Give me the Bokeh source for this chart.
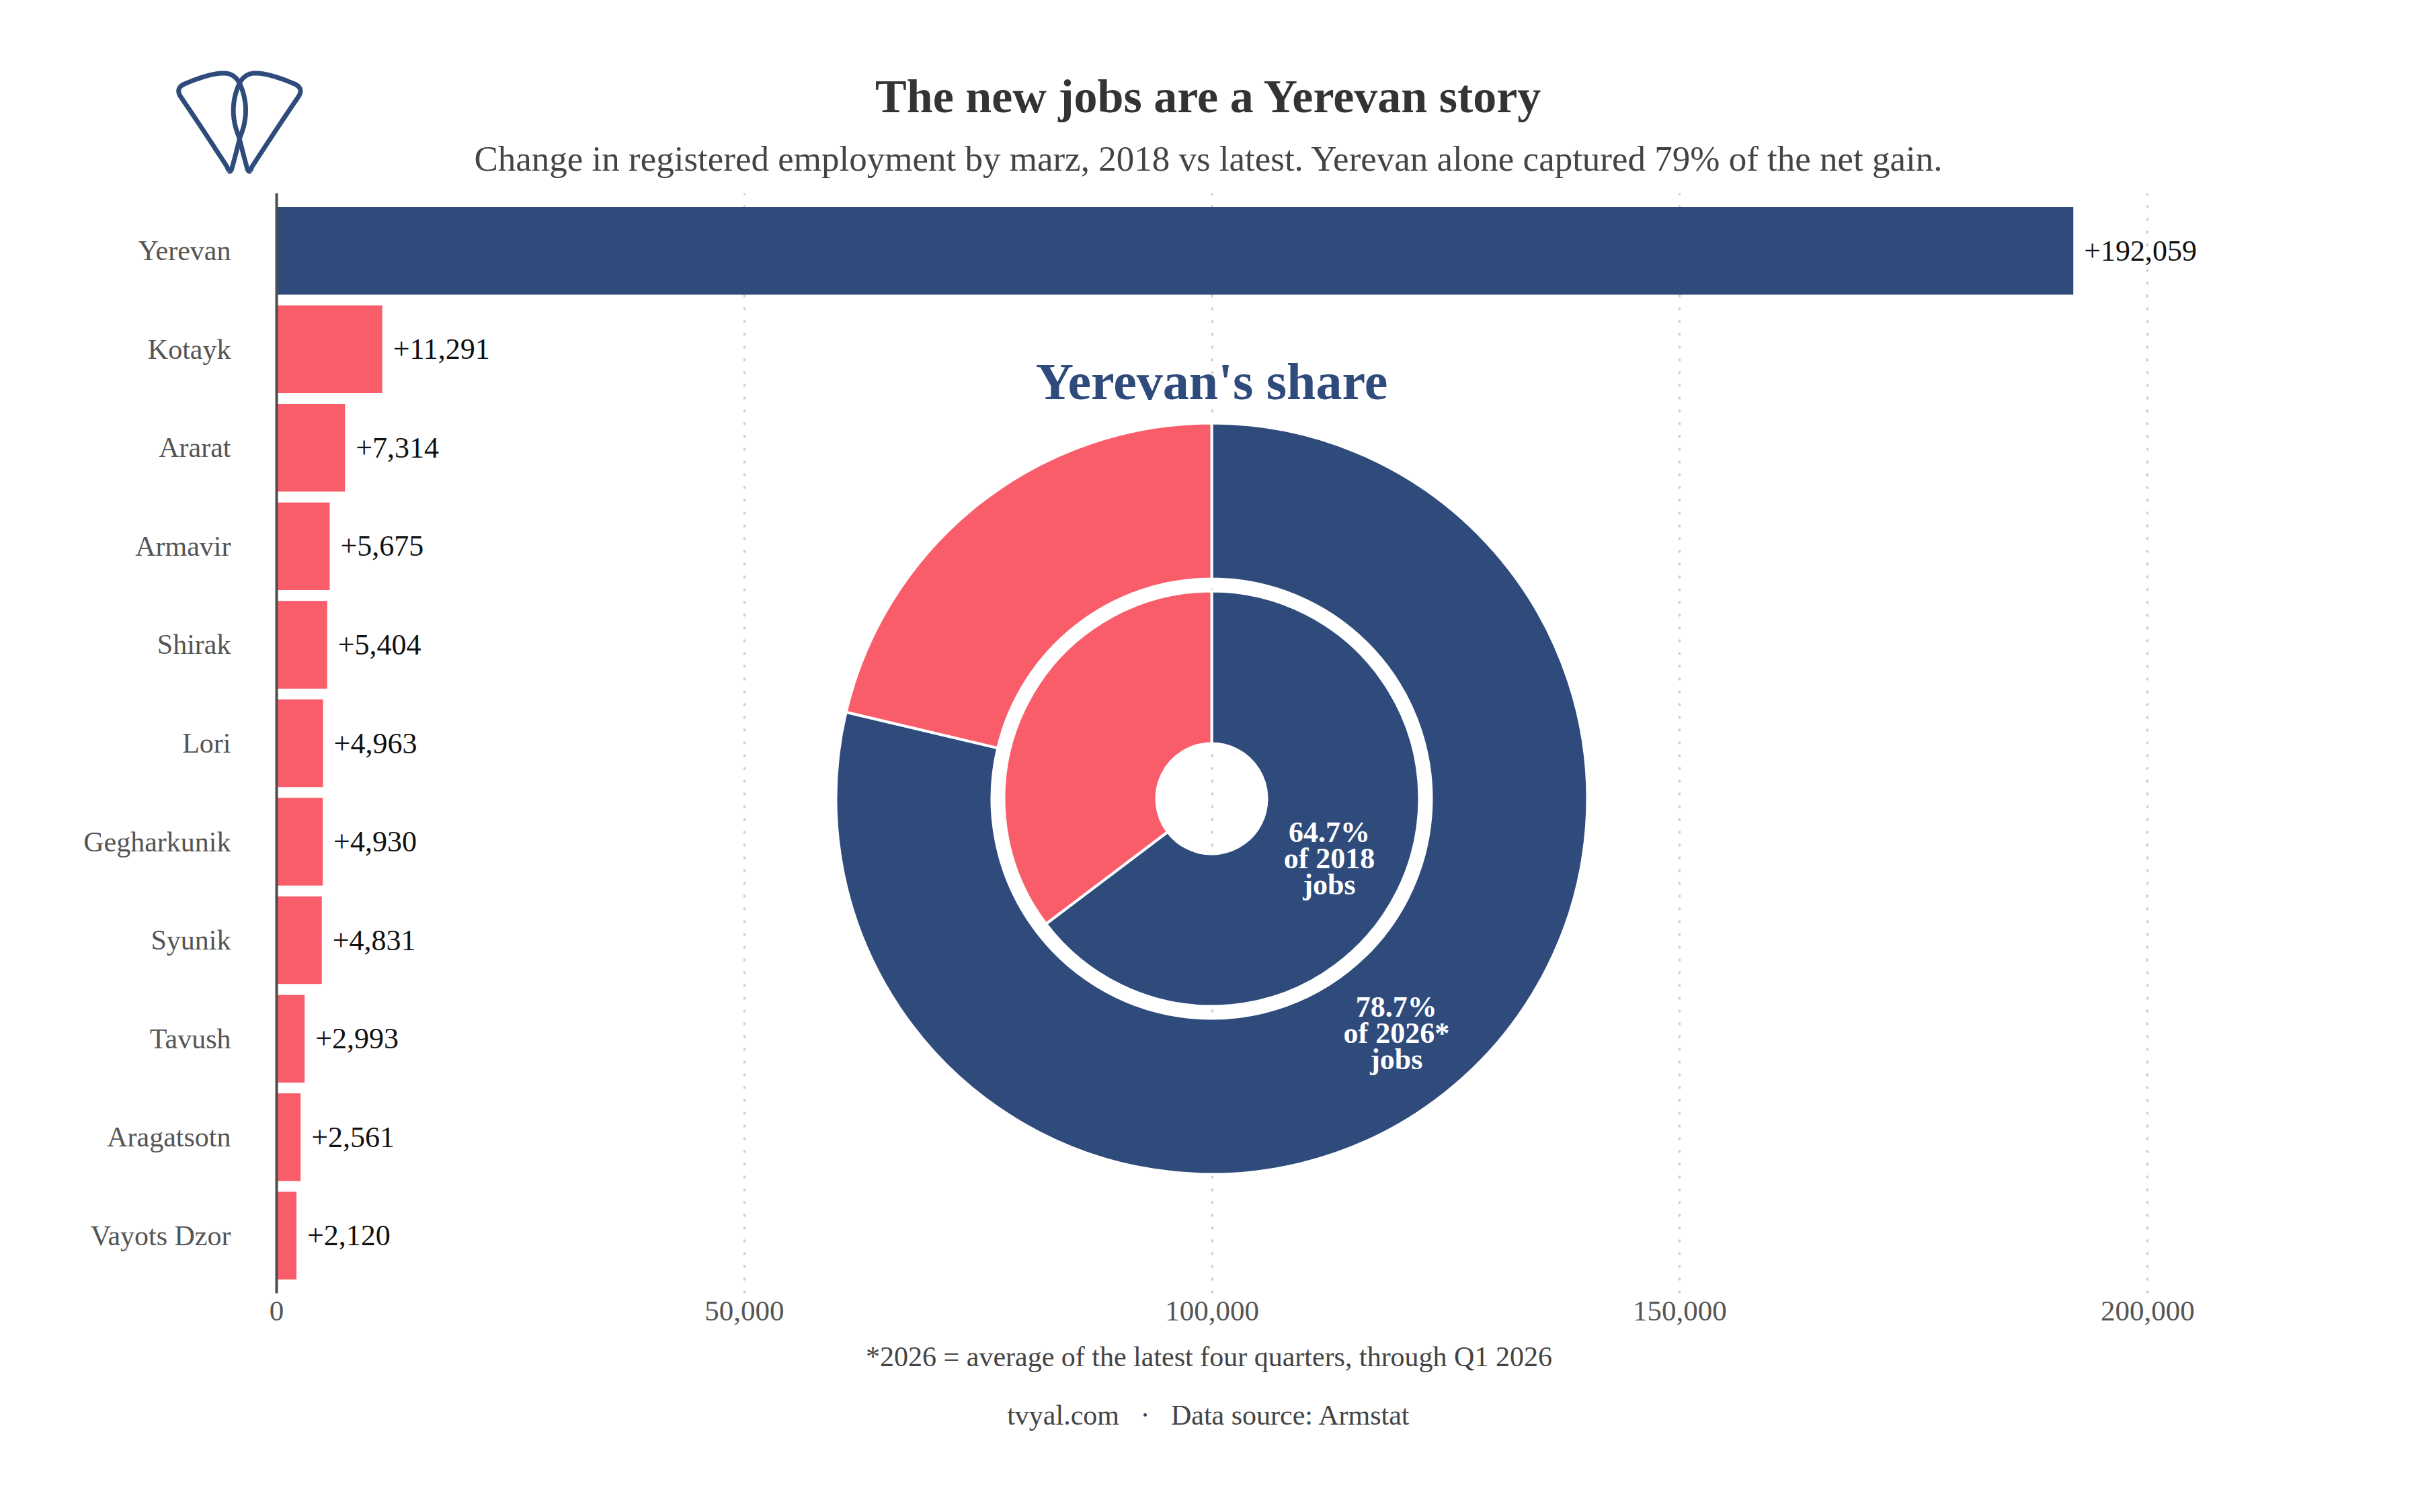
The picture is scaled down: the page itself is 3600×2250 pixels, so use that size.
import math
from bokeh.plotting import figure
from bokeh.layouts import column
from bokeh.models import (Range1d, ColumnDataSource, FixedTicker,
                          NumeralTickFormatter)
from bokeh.core.properties import value
from bokeh.embed import file_html
from bokeh.resources import INLINE

# ---------------- data ----------------
regions = ["Yerevan", "Kotayk", "Ararat", "Armavir", "Shirak", "Lori",
           "Gegharkunik", "Syunik", "Tavush", "Aragatsotn", "Vayots Dzor"]
changes = [192059, 11291, 7314, 5675, 5404, 4963, 4930, 4831, 2993, 2561, 2120]
x_ticks = [0, 50000, 100000, 150000, 200000]

ring_years = ["2018", "2026*"]          # inner ring, outer ring
yerevan_share = [64.7, 78.7]            # % of jobs in Yerevan

title = "The new jobs are a Yerevan story"
subtitle = ("Change in registered employment by marz, 2018 vs latest. "
            "Yerevan alone captured 79% of the net gain.")
pie_title = "Yerevan's share"
footnote = "*2026 = average of the latest four quarters, through Q1 2026"
footer = "tvyal.com\u00a0\u00a0\u00a0\u00b7\u00a0\u00a0\u00a0Data source: Armstat"

# ---------------- style ----------------
NAVY = "#2F4B7C"
CORAL = "#F95D6A"
FONT = "Liberation Serif"

W = 3584
HEAD_H = 287                                # header strip height
FL, FW, FH = 411, 2992, 1637                # main frame left/width/height
BOT = 66                                    # room for x tick labels
FOOT_H = 2234 - HEAD_H - FH - BOT
CX, CY = 1391, 901                          # pie centre inside frame (px)
RINGS = [(82, 309), (327, 559)]             # inner / outer ring radii (px)
PAD = 0.585
XC = 1798                                   # centre line of header/footer text


def blank(height):
    f = figure(width=W, height=height, x_range=Range1d(0, W),
               y_range=Range1d(height, 0), output_backend="svg",
               toolbar_location=None, title=None,
               x_axis_location=None, y_axis_location=None,
               min_border_left=0, min_border_right=0,
               min_border_top=0, min_border_bottom=0)
    f.frame_align = False
    f.grid.visible = False
    f.outline_line_color = None
    f.background_fill_color = "white"
    f.border_fill_color = "white"
    return f


# ---------------- header ----------------
head = blank(HEAD_H)
head.text(x=[XC], y=[143], text=[title], text_align="center",
          text_baseline="middle", text_font=value(FONT), text_font_style="bold",
          text_font_size="70px", text_color="#333333")
head.text(x=[XC], y=[235], text=[subtitle], text_align="center",
          text_baseline="middle", text_font=value(FONT),
          text_font_size="53px", text_color="#444444")


def quad(p0, c, p1, k=16):
    pts = []
    for i in range(k + 1):
        t = i / k
        pts.append(((1 - t) ** 2 * p0[0] + 2 * (1 - t) * t * c[0] + t * t * p1[0],
                    (1 - t) ** 2 * p0[1] + 2 * (1 - t) * t * c[1] + t * t * p1[1]))
    return pts


drop = []
drop += [(300, 492), (290, 470)]
drop += quad((290, 470), (180, 300), (88, 165))
drop += quad((88, 165), (55, 120), (110, 100))
drop += quad((110, 100), (240, 45), (300, 58))
drop += quad((300, 58), (335, 70), (350, 105))
drop += quad((350, 105), (400, 220), (350, 340))
drop += quad((350, 340), (325, 440), (312, 485))
drop += quad((312, 485), (305, 498), (300, 492))
for mirror in (False, True):
    pts = [((695 - x) if mirror else x, y) for x, y in drop]
    head.line(x=[240 + q[0] / 3 for q in pts], y=[90 + q[1] / 3 for q in pts],
              line_color=NAVY, line_width=7, line_join="round")

# ---------------- main chart ----------------
n = len(regions)
pos = [n - 1 - i for i in range(n)]        # Yerevan on top

p = figure(width=W, height=FH + BOT,
           x_range=Range1d(0, 215000),
           y_range=Range1d(-PAD, n - 1 + PAD),
           output_backend="svg", toolbar_location=None, title=None,
           min_border_left=FL, min_border_top=0,
           min_border_right=W - FL - FW, min_border_bottom=BOT)
p.frame_align = False
p.outline_line_color = None
p.background_fill_color = "white"
p.border_fill_color = "white"

p.extra_x_ranges = {"pie_x": Range1d(-CX, FW - CX)}
p.extra_y_ranges = {"pie_y": Range1d(-(FH - CY), CY)}

p.xaxis.ticker = FixedTicker(ticks=x_ticks)
p.xaxis.formatter = NumeralTickFormatter(format="0,0")
p.xaxis.axis_line_color = None
p.xaxis.major_tick_line_color = None
p.xaxis.minor_tick_line_color = None
p.xaxis.major_tick_in = 0
p.xaxis.major_tick_out = 0
p.xaxis.major_label_standoff = 12
p.xaxis.major_label_text_font = FONT
p.xaxis.major_label_text_font_size = "43px"
p.xaxis.major_label_text_color = "#555555"

p.yaxis.ticker = FixedTicker(ticks=pos)
p.yaxis.major_label_overrides = {y: r for y, r in zip(pos, regions)}
p.yaxis.axis_line_color = "#4d4d4d"
p.yaxis.axis_line_width = 4
p.yaxis.major_tick_line_color = None
p.yaxis.minor_tick_line_color = None
p.yaxis.major_tick_in = 0
p.yaxis.major_tick_out = 0
p.yaxis.major_label_standoff = 68
p.yaxis.major_label_text_font = FONT
p.yaxis.major_label_text_font_size = "42px"
p.yaxis.major_label_text_color = "#555555"

p.xgrid.ticker = FixedTicker(ticks=x_ticks)
p.xgrid.grid_line_color = "#cccccc"
p.xgrid.grid_line_width = 3
p.xgrid.grid_line_dash = "4 15"
p.ygrid.grid_line_color = None

src = ColumnDataSource(dict(
    pos=pos,
    change=changes,
    color=[NAVY if r == "Yerevan" else CORAL for r in regions],
    label=["+{:,}".format(v) for v in changes],
))
p.hbar(y="pos", left=0, right="change", height=0.89, color="color",
       line_color=None, source=src)
p.text(x="change", y="pos", text="label", source=src, x_offset=16,
       text_align="left", text_baseline="middle", text_font=value(FONT),
       text_font_size="44px", text_color="#111111")

# donut rings
w = dict(x=[], y=[], r0=[], r1=[], a0=[], a1=[], color=[])
lab = dict(x=[], y=[], text=[], yoff=[])
for (r0, r1), yr, s in zip(RINGS, ring_years, yerevan_share):
    frac = s / 100.0
    w["x"] += [0, 0]; w["y"] += [0, 0]
    w["r0"] += [r0, r0]; w["r1"] += [r1, r1]
    w["a0"] += [math.pi / 2 - frac * 2 * math.pi, math.pi / 2]
    w["a1"] += [math.pi / 2, math.pi / 2 - frac * 2 * math.pi + 2 * math.pi]
    w["color"] += [NAVY, CORAL]
    th = math.pi / 2 - frac * math.pi
    rm = (r0 + r1) / 2
    for t, off in zip([f"{s:.1f}%", f"of {yr}", "jobs"], [-37, 2, 41]):
        lab["x"].append(rm * math.cos(th))
        lab["y"].append(rm * math.sin(th))
        lab["text"].append(t)
        lab["yoff"].append(off)

p.annular_wedge(x="x", y="y", inner_radius="r0", outer_radius="r1",
                start_angle="a0", end_angle="a1", color="color",
                line_color="white", line_width=4,
                source=ColumnDataSource(w),
                x_range_name="pie_x", y_range_name="pie_y")
p.text(x="x", y="y", text="text", y_offset="yoff",
       source=ColumnDataSource(lab), x_range_name="pie_x", y_range_name="pie_y",
       text_align="center", text_baseline="middle", text_font=value(FONT),
       text_font_style="bold", text_font_size="44px", text_color="white")
p.text(x=[0], y=[RINGS[1][1] + 62], text=[pie_title],
       x_range_name="pie_x", y_range_name="pie_y",
       text_align="center", text_baseline="middle", text_font=value(FONT),
       text_font_style="bold", text_font_size="78px", text_color=NAVY)

# ---------------- footer ----------------
foot = blank(FOOT_H)
foot.text(x=[XC], y=[2018 - HEAD_H - FH - BOT], text=[footnote],
          text_align="center", text_baseline="middle", text_font=value(FONT),
          text_font_size="42px", text_color="#444444")
foot.text(x=[XC], y=[2105 - HEAD_H - FH - BOT], text=[footer],
          text_align="center", text_baseline="middle", text_font=value(FONT),
          text_font_size="42px", text_color="#444444")

layout = column(head, p, foot, spacing=0)
open("out.html", "w").write(file_html(layout, INLINE))
